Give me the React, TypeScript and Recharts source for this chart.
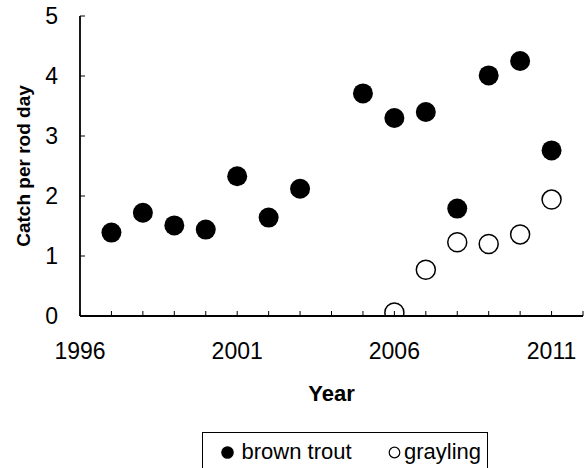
import { ScatterChart, Scatter, XAxis, YAxis, Legend } from "recharts";

const troutYears = [1997, 1998, 1999, 2000, 2001, 2002, 2003, 2005, 2006, 2007, 2008, 2009, 2010, 2011];
const troutCatch = [1.39, 1.72, 1.51, 1.44, 2.33, 1.64, 2.12, 3.71, 3.3, 3.4, 1.79, 4.01, 4.25, 2.76];
const graylingYears = [2006, 2007, 2008, 2009, 2010, 2011];
const graylingCatch = [0.06, 0.77, 1.23, 1.2, 1.36, 1.94];

const yearTicks = [1996, 1997, 1998, 1999, 2000, 2001, 2002, 2003, 2004, 2005, 2006, 2007, 2008, 2009, 2010, 2011, 2012];
const labelledYears = [1996, 2001, 2006, 2011];
const catchTicks = [0, 1, 2, 3, 4, 5];

const trout = troutYears.map((year, i) => ({ year, value: troutCatch[i] }));
const grayling = graylingYears.map((year, i) => ({ year, value: graylingCatch[i] }));

const FONT = "'Liberation Sans', Arial, sans-serif";

const FilledDot = (props: any) => <circle cx={props.cx} cy={props.cy} r={10} fill="#000" />;
const OpenDot = (props: any) => (
  <circle cx={props.cx} cy={props.cy} r={9.5} fill="none" stroke="#000" strokeWidth={1.5} />
);

// year labels only every five years
const YearTick = (props: any) => {
  const v = props.payload.value;
  if (!labelledYears.includes(v)) return null;
  return (
    <text x={props.x} y={props.y} dy="0.71em" textAnchor="middle" fontFamily={FONT} fontSize={23} fill="#000">
      {v}
    </text>
  );
};

const CatchTick = (props: any) => (
  <text x={props.x} y={props.y} dy="0.36em" textAnchor="end" fontFamily={FONT} fontSize={23} fill="#000">
    {props.payload.value}
  </text>
);

const renderLegend = (props: any) => {
  const items = props.payload || [];
  return (
    <div
      style={{
        boxSizing: "border-box",
        height: 40,
        border: "1px solid #000",
        display: "flex",
        alignItems: "center",
        paddingLeft: 17.5,
        fontFamily: FONT,
        fontSize: 22,
        color: "#000",
        whiteSpace: "nowrap",
        background: "#fff",
      }}
    >
      {items.map((entry: any, i: number) => (
        <span
          key={entry.value}
          style={{ display: "flex", alignItems: "center", width: i === 0 ? 167 : undefined }}
        >
          <svg width={13} height={13} style={{ marginRight: i === 0 ? 8 : 3.5 }}>
            {i === 0 ? (
              <circle cx={6.5} cy={6.5} r={6.3} fill="#000" />
            ) : (
              <circle cx={6.5} cy={6.5} r={5.3} fill="none" stroke="#000" strokeWidth={1.2} />
            )}
          </svg>
          {entry.value}
        </span>
      ))}
    </div>
  );
};

const YearLabel = (props: any) => {
  const vb = props.viewBox;
  return (
    <text
      x={vb.x + vb.width / 2}
      y={vb.y + 77}
      textAnchor="middle"
      dominantBaseline="central"
      fontFamily={FONT}
      fontSize={22}
      fontWeight="bold"
      fill="#000"
    >
      Year
    </text>
  );
};

const CatchLabel = (props: any) => {
  const vb = props.viewBox;
  const cx = vb.x + 23;
  const cy = vb.y + vb.height / 2;
  return (
    <text
      x={cx}
      y={cy}
      transform={`rotate(-90, ${cx}, ${cy})`}
      textAnchor="middle"
      dominantBaseline="central"
      fontFamily={FONT}
      fontSize={19}
      fontWeight="bold"
      fill="#000"
    >
      Catch per rod day
    </text>
  );
};

export default function App() {
  return (
    <div
      style={{ position: "absolute", left: 0, top: 0, width: 586, height: 468, background: "#fff", overflow: "hidden" }}
    >
      <ScatterChart width={586} height={468} margin={{ top: 16, right: 3, bottom: 12, left: 0 }}>
        <XAxis
          type="number"
          dataKey="year"
          domain={[1996, 2012]}
          ticks={yearTicks}
          interval={0}
          allowDataOverflow
          tickSize={-5}
          tickMargin={32}
          height={100}
          axisLine={{ stroke: "#000", strokeWidth: 1.8 }}
          tickLine={{ stroke: "#000", strokeWidth: 1 }}
          tick={YearTick}
          label={{ content: YearLabel }}
        />
        <XAxis
          xAxisId="top"
          orientation="top"
          type="number"
          domain={[1996, 2012]}
          height={0}
          tick={false}
          tickLine={false}
          axisLine={{ stroke: "#000", strokeWidth: 1.8 }}
        />
        <YAxis
          type="number"
          dataKey="value"
          domain={[0, 5]}
          ticks={catchTicks}
          interval={0}
          allowDataOverflow
          tickSize={-5}
          tickMargin={27}
          width={80}
          axisLine={{ stroke: "#000", strokeWidth: 1.8 }}
          tickLine={{ stroke: "#000", strokeWidth: 1 }}
          tick={CatchTick}
          label={{ content: CatchLabel }}
        />
        <YAxis
          yAxisId="right"
          orientation="right"
          type="number"
          domain={[0, 5]}
          width={0}
          tick={false}
          tickLine={false}
          axisLine={{ stroke: "#000", strokeWidth: 1.8 }}
        />
        <Legend
          content={renderLegend}
          wrapperStyle={{ left: 202, top: 432, width: 286, height: 40 }}
        />
        <Scatter name="brown trout" data={trout} fill="#000" shape={FilledDot} isAnimationActive={false} />
        <Scatter name="grayling" data={grayling} fill="#fff" shape={OpenDot} isAnimationActive={false} />
      </ScatterChart>
    </div>
  );
}
